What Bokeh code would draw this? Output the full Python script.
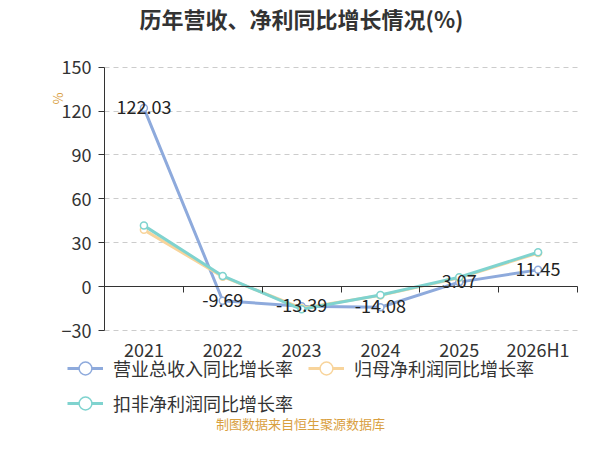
from math import pi
from bokeh.plotting import figure
from bokeh.models import Range1d, LinearAxis, FixedTicker, Label, Legend, LegendItem, Grid
from bokeh.embed import file_html
from bokeh.resources import INLINE
from bokeh.core.properties import value

categories = ["2021", "2022", "2023", "2024", "2025", "2026H1"]
revenue_growth = [122.03, -9.69, -13.39, -14.08, 3.07, 11.45]
parent_profit_growth = [38.8, 6.8, -14.8, -6.0, 6.0, 23.0]
deducted_profit_growth = [41.7, 7.3, -15.5, -5.7, 6.4, 23.5]
y_ticks = [-30, 0, 30, 60, 90, 120, 150]
series_names = ["营业总收入同比增长率", "归母净利润同比增长率", "扣非净利润同比增长率"]
title_text = "历年营收、净利同比增长情况(%)"
source_text = "制图数据来自恒生聚源数据库"
unit_text = "%"

FONT = "Noto Sans CJK SC"
colors = ["#8eaadc", "#f8d49b", "#7fd3cf"]
x_idx = list(range(len(categories)))

# canvas layout (pixels): plot area left/right/top/bottom
W, H = 584, 434
PL, PR, PT, PB = 104.0, 577.0, 66.7, 330.0
n = len(categories)
xs = (PR - PL) / n
ys = (PB - PT) / (y_ticks[-1] - y_ticks[0])
x_start = -0.5 - PL / xs
x_end = n - 0.5 + (W - PR) / xs
y_end = y_ticks[-1] + PT / ys
y_start = y_ticks[0] - (H - PB) / ys

p = figure(width=W, height=H, output_backend="svg", toolbar_location=None,
           x_range=Range1d(x_start, x_end), y_range=Range1d(y_start, y_end),
           x_axis_location=None, y_axis_location=None,
           min_border_left=0, min_border_right=0, min_border_top=0, min_border_bottom=0)
p.outline_line_color = None
p.background_fill_color = "white"
p.border_fill_color = "white"
p.xgrid.visible = False
p.ygrid.visible = False

# dashed horizontal grid within the plot area
grid = Grid(dimension=1, ticker=FixedTicker(ticks=y_ticks),
            grid_line_color="#cccccc", grid_line_dash="5 4", grid_line_width=1)
if "cross_bounds" in Grid.properties():
    grid.cross_bounds = (-0.5, n - 0.5)
    p.add_layout(grid)
else:
    p.segment(x0=[-0.5] * len(y_ticks), x1=[n - 0.5] * len(y_ticks), y0=y_ticks, y1=y_ticks,
              line_color="#cccccc", line_dash="5 4", line_width=1)

# y axis
yaxis = LinearAxis(fixed_location=-0.5, bounds=(y_ticks[0], y_ticks[-1]),
                   ticker=FixedTicker(ticks=y_ticks),
                   major_label_text_font=FONT, major_label_text_font_size="18px",
                   major_label_text_color="#333333", axis_line_color="#333333",
                   major_tick_line_color="#333333", major_tick_out=6, major_tick_in=0,
                   minor_tick_out=0, minor_tick_in=0, major_label_standoff=7)
p.add_layout(yaxis, "left")

# zero line with ticks between categories
zero_axis = LinearAxis(fixed_location=0, bounds=(-0.5, n - 0.5),
                       ticker=FixedTicker(ticks=[i - 0.5 for i in range(n + 1)]),
                       major_label_text_alpha=0, major_label_text_font_size="1px",
                       major_tick_out=6, major_tick_in=0, minor_tick_out=0, minor_tick_in=0,
                       axis_line_color="#333333", major_tick_line_color="#333333")
p.add_layout(zero_axis, "below")

# category labels below the plot area
xaxis = LinearAxis(fixed_location=y_ticks[0], bounds=(-0.5, n - 0.5),
                   ticker=FixedTicker(ticks=x_idx),
                   major_label_overrides={i: c for i, c in zip(x_idx, categories)},
                   major_label_text_font=FONT, major_label_text_font_size="18px",
                   major_label_text_color="#333333", axis_line_color=None,
                   major_tick_out=0, major_tick_in=0, minor_tick_out=0, minor_tick_in=0,
                   major_label_standoff=5)
p.add_layout(xaxis, "below")

items = []
for vals, c, name in zip([revenue_growth, parent_profit_growth, deducted_profit_growth], colors, series_names):
    rl = p.line(x_idx, vals, line_color=c, line_width=3)
    rs = p.scatter(x_idx, vals, marker="circle", size=7, fill_color="white", line_color=c, line_width=1.5)
    items.append(LegendItem(label=name, renderers=[rl, rs]))

p.text(x_idx, revenue_growth, text=[f"{v:.2f}" for v in revenue_growth],
       text_align="center", text_baseline="middle", text_font=value(FONT),
       text_font_size="18px", text_color="#222222", y_offset=-1)

leg_kw = dict(orientation="horizontal", spacing=15, padding=0, margin=0,
              border_line_color=None, background_fill_alpha=0,
              glyph_width=36, glyph_height=32, label_standoff=10,
              label_text_font=FONT, label_text_font_size="18px", label_text_color="#333333")
leg1 = Legend(items=items[:2], location=(67, 50), **leg_kw)
leg2 = Legend(items=items[2:], location=(67, 15), **leg_kw)
p.add_layout(leg1)
p.add_layout(leg2)

p.add_layout(Label(x=301, y=417, x_units="screen", y_units="screen", text=title_text,
                   text_align="center", text_baseline="middle", text_font=FONT,
                   text_font_size="22px", text_font_style="bold", text_color="#333333"))
p.add_layout(Label(x=57, y=336, x_units="screen", y_units="screen", text=unit_text,
                   angle=pi / 2, text_align="center", text_baseline="middle", text_font=FONT,
                   text_font_size="13px", text_color="#d9a03f"))
p.add_layout(Label(x=300, y=11, x_units="screen", y_units="screen", text=source_text,
                   text_align="center", text_baseline="middle", text_font=FONT,
                   text_font_size="13px", text_color="#d9a03f"))

open("out.html", "w").write(file_html(p, INLINE))
